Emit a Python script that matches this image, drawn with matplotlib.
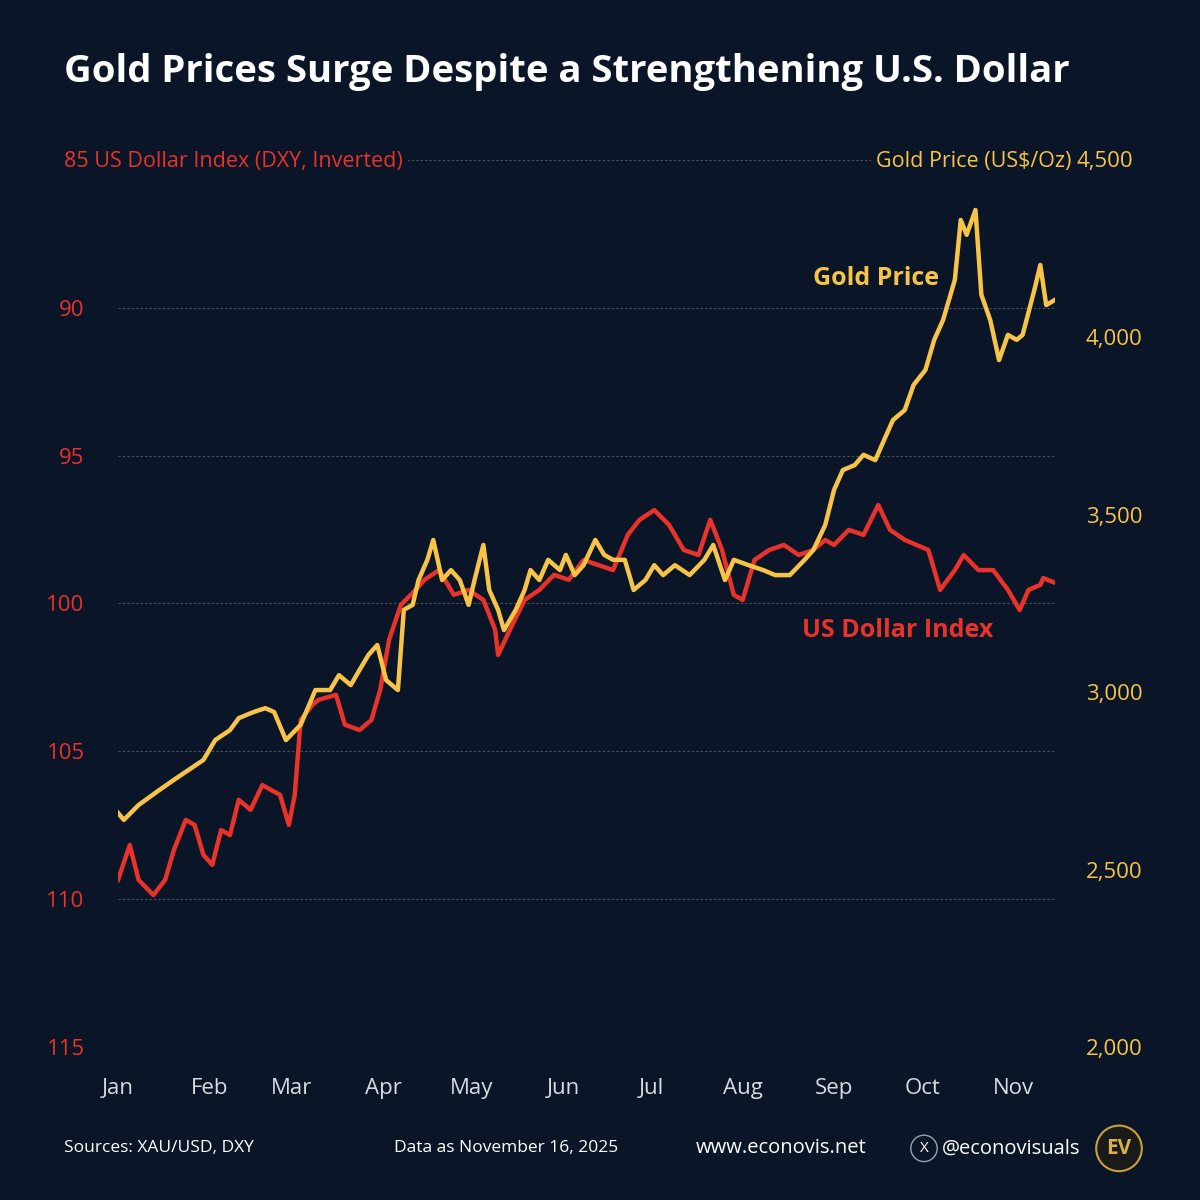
import matplotlib
matplotlib.use("Agg")
import matplotlib.pyplot as plt
from matplotlib.patches import Circle

BG = "#0a1628"
RED = "#e8322a"
GOLD = "#f7c447"

months = ["Jan","Feb","Mar","Apr","May","Jun","Jul","Aug","Sep","Oct","Nov"]
month_days = [0,31,59,90,120,151,181,212,243,273,304]

gold_days = [0,2,7,14,19,24,29,33,38,41,46,50,53,57,62,67,72,75,79,82,85,88,91,95,97,100,102,105,107,110,
             113,116,119,121,124,126,129,131,135,138,140,143,146,150,152,155,158,162,165,168,172,175,179,182,185,189,194,199,202,206,
             209,214,219,223,228,233,236,240,243,246,250,253,257,260,263,267,270,274,277,280,284,286,288,291,293,296,299,302,305,307,
             311,313,315,318]
gold_vals = [2660,2640,2682,2724,2753,2781,2809,2865,2893,2927,2944,2955,2944,2865,2908,3006,3006,3048,3020,3063,
             3105,3133,3034,3006,3232,3246,3316,3373,3429,3316,3344,3316,3246,3316,3415,3288,3232,3175,3232,3288,
             3344,3316,3373,3344,3387,3330,3358,3429,3387,3373,3373,3288,3316,3358,3330,3358,3330,3373,3415,3316,
             3373,3358,3344,3330,3330,3373,3401,3471,3570,3626,3640,3669,3654,3711,3767,3795,3866,3908,3993,4049,
             4162,4331,4289,4359,4120,4049,3936,4007,3993,4007,4134,4204,4091,4106]

dxy_days = [0,4,7,12,16,19,23,26,29,32,35,38,41,45,49,52,55,58,60,62,66,68,74,77,82,86,89,92,96,101,
            104,109,114,119,124,128,129,133,138,143,148,153,158,163,168,173,177,182,187,192,197,201,205,209,212,216,221,226,231,236,
            240,243,248,253,258,262,267,271,275,279,284,287,292,297,302,306,309,313,314,318]
dxy_vals = [109.35,108.17,109.35,109.86,109.35,108.33,107.32,107.49,108.5,108.84,107.66,107.83,106.64,106.98,106.14,106.31,106.47,107.49,106.47,103.94,
            103.43,103.26,103.09,104.1,104.28,103.94,102.92,101.23,100.05,99.54,99.2,98.87,99.71,99.54,99.88,100.89,101.74,100.89,99.88,99.54,
            99.03,99.2,98.53,98.7,98.87,97.68,97.17,96.84,97.34,98.19,98.36,97.17,98.19,99.71,99.88,98.53,98.19,98.02,98.36,98.19,
            97.85,98.02,97.51,97.68,96.67,97.51,97.85,98.02,98.19,99.54,98.87,98.36,98.87,98.87,99.54,100.22,99.54,99.37,99.14,99.3]

left_ticks = [90,95,100,105,110,115]
right_ticks = [2000,2500,3000,3500,4000]

FONT = "Open Sans"
fig = plt.figure(figsize=(12,12), dpi=100, facecolor=BG)
ax = fig.add_axes([0.0983, 0.1275, 0.7809, 0.7392], facecolor=BG)
ax2 = ax.twinx()

ax.set_xlim(0, 318)
ax.set_ylim(115, 85)
ax2.set_ylim(2000, 4500)
for y in [85] + left_ticks:
    ax.axhline(y, color="#4a5563", lw=0.8, ls=(0,(2,2)), zorder=0)

ax.plot(dxy_days, dxy_vals, color=RED, lw=3.2, zorder=3)
ax2.plot(gold_days, gold_vals, color=GOLD, lw=3.2, zorder=4)

for a in (ax, ax2):
    for s in a.spines.values():
        s.set_visible(False)
ax.set_xticks(month_days)
ax.set_xticklabels(months, fontsize=16, color="#d8dce2", family=FONT)
ax.tick_params(axis="x", length=0, pad=22)
ax.set_yticks(left_ticks)
ax.set_yticklabels([str(t) for t in left_ticks], fontsize=16, color=RED, family=FONT)
ax.tick_params(axis="y", length=0, pad=24)
ax2.set_yticks(right_ticks)
ax2.set_yticklabels([f"{t:,}" for t in right_ticks], fontsize=16, color=GOLD, family=FONT)
ax2.tick_params(axis="y", length=0, pad=22)

fig.text(0.053, 0.865, "85 US Dollar Index (DXY, Inverted)", color=RED, fontsize=15.5, family=FONT,
         va="center", ha="left", bbox=dict(fc=BG, ec="none", pad=4))
fig.text(0.893, 0.865, "Gold Price (US$/Oz)", color=GOLD, fontsize=15.5, family=FONT,
         va="center", ha="right", bbox=dict(fc=BG, ec="none", pad=4))
fig.text(0.897, 0.865, "4,500", color=GOLD, fontsize=16, family=FONT, va="center", ha="left")

ax2.text(236, 4167, "Gold Price", color=GOLD, fontsize=18, fontweight="bold", family=FONT, ha="left", va="center")
ax.text(232, 100.9, "US Dollar Index", color=RED, fontsize=18, fontweight="bold", family=FONT, ha="left", va="center")

fig.text(0.053, 0.94, "Gold Prices Surge Despite a Strengthening U.S. Dollar", color="white",
         fontsize=27.5, fontweight="bold", family=FONT, va="center", ha="left")

FY = 0.043
fig.text(0.053, FY, "Sources: XAU/USD, DXY", color="white", fontsize=12.5, family=FONT, va="center")
fig.text(0.328, FY, "Data as November 16, 2025", color="white", fontsize=12.5, family=FONT, va="center")
fig.text(0.58, FY, "www.econovis.net", color="white", fontsize=14.5, family=FONT, va="center")
fig.add_artist(Circle((0.77, FY), 0.011, transform=fig.transFigure, fc="none", ec="#9aa3ad", lw=1))
fig.text(0.77, FY, "X", color="white", fontsize=11, family=FONT, va="center", ha="center")
fig.text(0.785, FY, "@econovisuals", color="white", fontsize=14.5, family=FONT, va="center")
fig.add_artist(Circle((0.9325, FY), 0.019, transform=fig.transFigure, fc="#1a1a1a", ec="#c9a13a", lw=1.5))
fig.text(0.9325, FY, "EV", color="#d9b04a", fontsize=15, fontweight="bold", family=FONT, va="center", ha="center")

fig.savefig("out.png", dpi=100, facecolor=BG)
